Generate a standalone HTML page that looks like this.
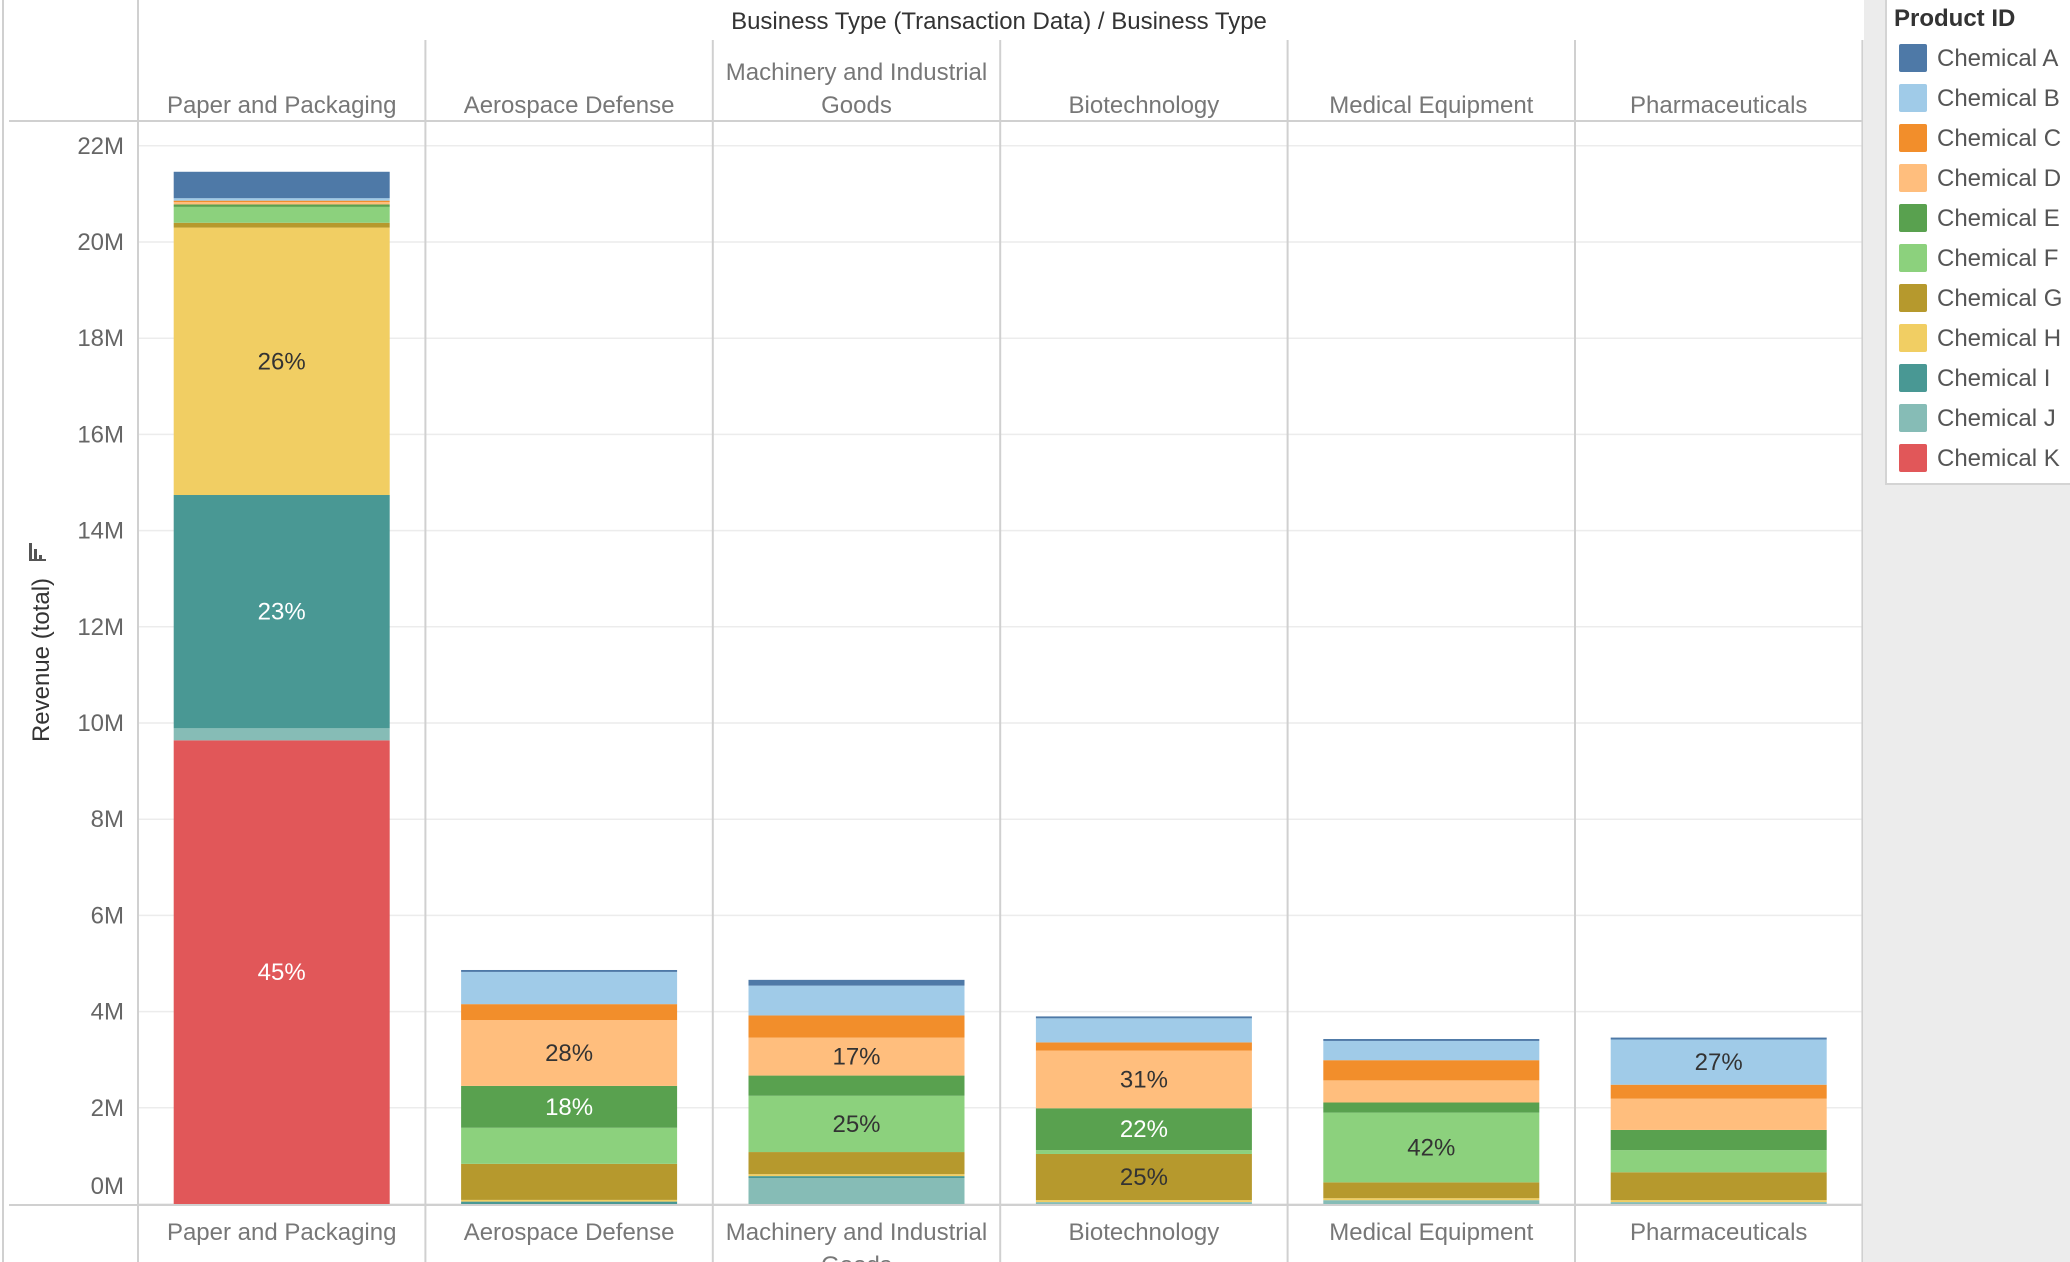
<!DOCTYPE html>
<html><head><meta charset="utf-8"><style>
html,body{margin:0;padding:0;background:#fff;}
svg{display:block;font-family:"Liberation Sans",sans-serif;}
</style></head><body>
<svg id="chart" width="2070" height="1262" viewBox="0 0 2070 1262"></svg>
<script>
const categories = ["Paper and Packaging","Aerospace Defense","Machinery and Industrial Goods","Biotechnology","Medical Equipment","Pharmaceuticals"];
const products = ["Chemical A","Chemical B","Chemical C","Chemical D","Chemical E","Chemical F","Chemical G","Chemical H","Chemical I","Chemical J","Chemical K"];
// values in millions, per product, per category
const chemA = [0.55,0.04,0.12,0.04,0.04,0.04];
const chemB = [0.05,0.67,0.62,0.50,0.40,0.94];
const chemC = [0.03,0.33,0.46,0.17,0.42,0.29];
const chemD = [0.05,1.37,0.79,1.20,0.46,0.65];
const chemE = [0.05,0.87,0.42,0.87,0.21,0.42];
const chemF = [0.33,0.75,1.17,0.08,1.45,0.46];
const chemG = [0.10,0.75,0.46,0.96,0.33,0.58];
const chemH = [5.56,0.035,0.04,0.04,0.04,0.04];
const chemI = [4.85,0.05,0.04,0,0,0];
const chemJ = [0.25,0,0.54,0.04,0.08,0.04];
const chemK = [9.64,0,0,0,0,0];
const yTicks = [0,2,4,6,8,10,12,14,16,18,20,22];
const colors = ["#4e79a7","#a0cbe8","#f28e2b","#ffbe7d","#59a14f","#8cd17d","#b6992d","#f1ce63","#499894","#86bcb6","#e15759"];
const darkLabel = [false,false,false,false,true,false,false,false,true,false,true];

const series = [chemA,chemB,chemC,chemD,chemE,chemF,chemG,chemH,chemI,chemJ,chemK];
const NS = "http://www.w3.org/2000/svg";
const svg = document.getElementById("chart");
function mk(tag, attrs, parent){const e=document.createElementNS(NS,tag);for(const k in attrs)e.setAttribute(k,attrs[k]);(parent||svg).appendChild(e);return e;}
const y0 = 1204, pxPerM = 48.1;
function yScale(v){return y0 - v*pxPerM;}
const paneLeft = 138, paneW = 287.4, barW = 216;
function xCenter(i){return paneLeft + paneW*i + paneW/2;}
const rightEdge = paneLeft + paneW*6;

mk("rect",{x:1864,y:0,width:206,height:1262,fill:"#ececec"});
yTicks.forEach(t=>{
  const g=mk("line",{x1:138,x2:rightEdge,y1:yScale(t),y2:yScale(t),stroke:"#ececec","stroke-width":1.5});
  
  
});
yTicks.forEach(t=>{
  const ty = t===0 ? yScale(t)-18 : yScale(t);
  const tx=mk("text",{x:124,y:ty+8,"text-anchor":"end","font-size":24,fill:"#666"});
  tx.textContent=t+"M";
  
  
});
mk("line",{x1:3,x2:3,y1:0,y2:1262,stroke:"#d0d0d0","stroke-width":2});
mk("line",{x1:138,x2:138,y1:0,y2:1262,stroke:"#d0d0d0","stroke-width":2});
for(let i=1;i<=6;i++){mk("line",{x1:paneLeft+paneW*i,x2:paneLeft+paneW*i,y1:40,y2:1262,stroke:"#d0d0d0","stroke-width":2});}
mk("line",{x1:9,x2:rightEdge,y1:121,y2:121,stroke:"#d0d0d0","stroke-width":2});
mk("line",{x1:9,x2:rightEdge,y1:1205,y2:1205,stroke:"#d0d0d0","stroke-width":2});
const title=mk("text",{x:999,y:29,"text-anchor":"middle","font-size":24,fill:"#333"});
title.textContent="Business Type (Transaction Data) / Business Type";


categories.forEach((c,i)=>{
  const cx=xCenter(i);
  if(c==="Machinery and Industrial Goods"){
    const t1=mk("text",{x:cx,y:80,"text-anchor":"middle","font-size":24,fill:"#777"});t1.textContent="Machinery and Industrial";
    
    
    const t2=mk("text",{x:cx,y:113,"text-anchor":"middle","font-size":24,fill:"#777"});t2.textContent="Goods";
    
    
    const b1=mk("text",{x:cx,y:1240,"text-anchor":"middle","font-size":24,fill:"#777"});b1.textContent="Machinery and Industrial";
    
    
    const b2=mk("text",{x:cx,y:1273,"text-anchor":"middle","font-size":24,fill:"#777"});b2.textContent="Goods";
    
    
  } else {
    const t=mk("text",{x:cx,y:113,"text-anchor":"middle","font-size":24,fill:"#777"});t.textContent=c;
    
    
    const b=mk("text",{x:cx,y:1240,"text-anchor":"middle","font-size":24,fill:"#777"});b.textContent=c;
    
    
  }
});
const yt=mk("text",{x:0,y:0,"text-anchor":"middle","font-size":24,fill:"#333",transform:"translate(49,660) rotate(-90)"});
yt.textContent="Revenue (total)";


const sortIcon=mk("g",{transform:"translate(29,543)"});


mk("rect",{x:0,y:0,width:3,height:18,fill:"#555"},sortIcon);
mk("rect",{x:5,y:6,width:3,height:12,fill:"#555"},sortIcon);
mk("rect",{x:10,y:12,width:3,height:6,fill:"#555"},sortIcon);
mk("rect",{x:0,y:16,width:17,height:2,fill:"#555"},sortIcon);

categories.forEach((c,i)=>{
  const total = series.reduce((s,arr)=>s+arr[i],0);
  let cum=0;
  const x=xCenter(i)-barW/2;
  for(let p=series.length-1;p>=0;p--){
    const v=series[p][i];
    if(v<=0) continue;
    const yTop=yScale(cum+v), yBot=yScale(cum);
    const r=mk("rect",{x:x,y:yTop,width:barW,height:yBot-yTop,fill:colors[p]});
    
    
    const share=v/total;
    if(v>=0.77){
      const lb=mk("text",{x:xCenter(i),y:(yTop+yBot)/2+8,"text-anchor":"middle","font-size":24,fill:darkLabel[p]?"#fff":"#333"});
      lb.textContent=Math.round(share*100)+"%";
      
      
    }
    cum+=v;
  }
});

const lg=mk("g",{});


mk("rect",{x:1886,y:-2,width:190,height:486,fill:"#fff",stroke:"#d4d4d4","stroke-width":2},lg);
const lt=mk("text",{x:1894,y:26,"font-size":24,fill:"#333","font-weight":"bold"},lg);
lt.textContent="Product ID";


products.forEach((p,k)=>{
  const g=mk("g",{},lg);
  
  
  mk("rect",{x:1899,y:44+40*k,width:28,height:28,rx:2,fill:colors[k]},g);
  const t=mk("text",{x:1937,y:66+40*k,"font-size":24,fill:"#555"},g);
  t.textContent=p;
});
</script>
</body></html>
